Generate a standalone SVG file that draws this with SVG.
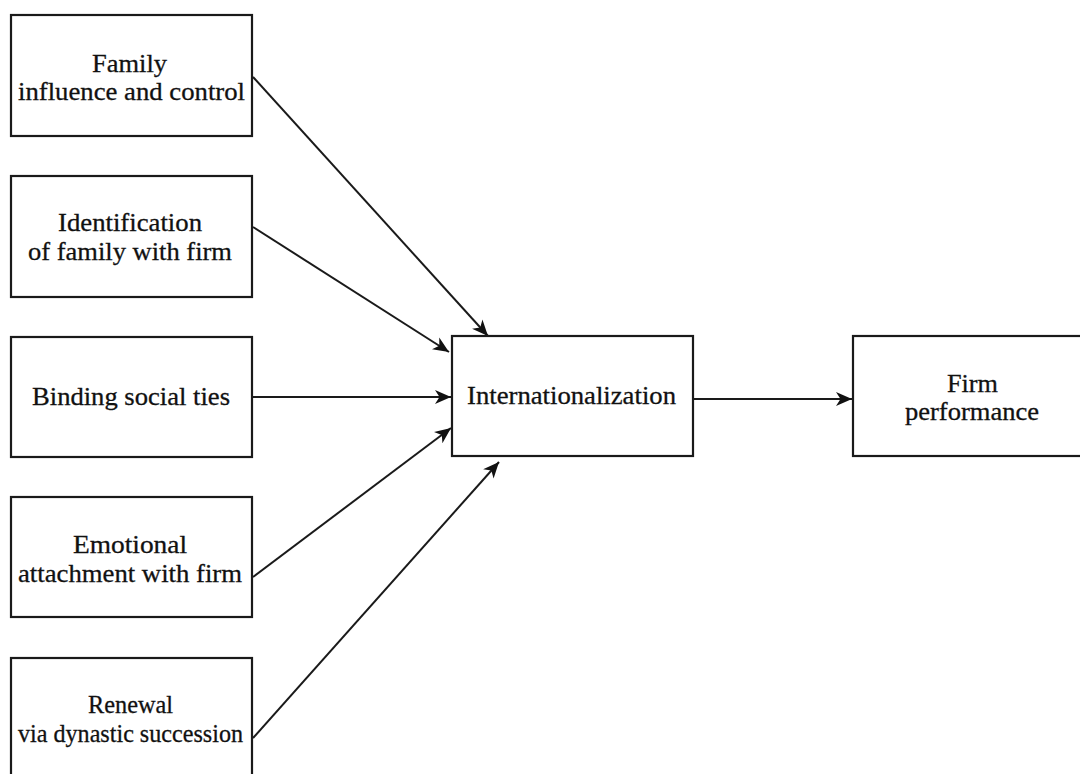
<svg xmlns="http://www.w3.org/2000/svg" width="1080" height="774" viewBox="0 0 1080 774">
<defs>
<marker id="arr" markerUnits="userSpaceOnUse" markerWidth="18" markerHeight="16" refX="16" refY="8" orient="auto">
<path d="M0,1 L16,8 L0,15 L4.5,8 z" fill="#111"/>
</marker>
<style>
.box{fill:#fff;stroke:#1a1a1a;stroke-width:2.2}
.t{font-family:"Liberation Serif","Times New Roman",serif;font-size:26px;fill:#111;stroke:#111;stroke-width:0.3;text-anchor:middle}
.c{stroke:#1a1a1a;stroke-width:2;fill:none;marker-end:url(#arr)}
</style>
</defs>
<rect width="1080" height="774" fill="#fff"/>
<g id="connectors">
<line class="c" x1="253" y1="77" x2="488" y2="336"/>
<line class="c" x1="253" y1="227" x2="449" y2="352"/>
<line class="c" x1="253" y1="397" x2="451" y2="397"/>
<line class="c" x1="253" y1="577" x2="451" y2="428"/>
<line class="c" x1="253" y1="738" x2="499" y2="462"/>
<line class="c" x1="694" y1="399" x2="852" y2="399"/>
</g>
<g id="n1"><rect class="box" x="11" y="15" width="241" height="121"/>
<text class="t" x="129.5" y="72" textLength="75" lengthAdjust="spacingAndGlyphs">Family</text><text class="t" x="131.5" y="100" textLength="227" lengthAdjust="spacingAndGlyphs">influence and control</text></g>
<g id="n2"><rect class="box" x="11" y="176" width="241" height="121"/>
<text class="t" x="130" y="231" textLength="144" lengthAdjust="spacingAndGlyphs">Identification</text><text class="t" x="130" y="260" textLength="204" lengthAdjust="spacingAndGlyphs">of family with firm</text></g>
<g id="n3"><rect class="box" x="11" y="337" width="241" height="120"/>
<text class="t" x="131" y="405" textLength="198" lengthAdjust="spacingAndGlyphs">Binding social ties</text></g>
<g id="n4"><rect class="box" x="11" y="497" width="241" height="120"/>
<text class="t" x="130" y="553" textLength="114" lengthAdjust="spacingAndGlyphs">Emotional</text><text class="t" x="130" y="582" textLength="224" lengthAdjust="spacingAndGlyphs">attachment with firm</text></g>
<g id="n5"><rect class="box" x="11" y="658" width="241" height="121"/>
<text class="t" x="130.5" y="713" textLength="85" lengthAdjust="spacingAndGlyphs">Renewal</text><text class="t" x="130.5" y="742" textLength="225" lengthAdjust="spacingAndGlyphs">via dynastic succession</text></g>
<g id="n6"><rect class="box" x="452" y="336" width="241" height="120"/>
<text class="t" x="571.5" y="404" textLength="209" lengthAdjust="spacingAndGlyphs">Internationalization</text></g>
<g id="n7"><rect class="box" x="853" y="336" width="241" height="120"/>
<text class="t" x="972.5" y="392" textLength="51" lengthAdjust="spacingAndGlyphs">Firm</text><text class="t" x="972" y="420" textLength="134" lengthAdjust="spacingAndGlyphs">performance</text></g>
</svg>
